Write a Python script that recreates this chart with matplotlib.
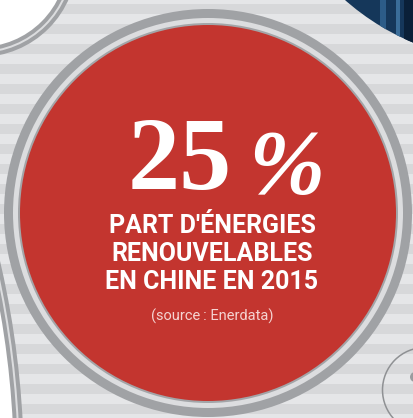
import numpy as np
import matplotlib
matplotlib.use("Agg")
import matplotlib.pyplot as plt
from matplotlib.patches import Circle

# content of the badge
share_value = 25
share_unit = "%"
label_lines = ["PART D'ÉNERGIES", "RENOUVELABLES", "EN CHINE EN 2015"]
source_text = "(source\u202f: Enerdata)"

W, H = 414, 418
RED = "#c3352f"
RING = "#a0a2a5"
RING_LIGHT = "#dcdddf"
STRIPE_A = "#e5e6e8"
STRIPE_B = "#d7d8da"

fig = plt.figure(figsize=(W / 100, H / 100), dpi=100)
ax = fig.add_axes([0, 0, 1, 1])
ax.set_xlim(0, W)
ax.set_ylim(H, 0)
ax.axis("off")

# striped background
ax.add_patch(plt.Rectangle((0, 0), W, H, color=STRIPE_A, zorder=0))
for y0 in range(-16, H, 20):
    ax.axhspan(y0, y0 + 10, color=STRIPE_B, lw=0, zorder=0)

# photo corner, top right
c = (508.5, -185.5)
r = 247.3
photo = Circle(c, r, color="#15375a", lw=0, zorder=1)
ax.add_patch(photo)
for x0, w, col in [(380, 6, "#2c5c88"), (396, 4, "#3a6d99"), (404, 10, "#0a2038")]:
    bar = plt.Rectangle((x0, -5), w, 60, color=col, lw=0, zorder=1.1)
    ax.add_patch(bar)
    bar.set_clip_path(photo)


def ringed_blank(center, r_white):
    # white area edged with a grey double band
    ax.add_patch(Circle(center, r_white + 10, color=RING, lw=0, zorder=2))
    ax.add_patch(Circle(center, r_white + 6, color=RING_LIGHT, lw=0, zorder=2))
    ax.add_patch(Circle(center, r_white + 4, color=RING, lw=0, zorder=2))
    ax.add_patch(Circle(center, r_white, color="white", lw=0, zorder=2))


ringed_blank((-20, -40), 87)
ringed_blank((-900, 470), 914)

# small circle, bottom right
ax.add_patch(Circle((425, 390), 42.5, fill=False, ec="#8f9194", lw=1.1, zorder=2))
ax.add_patch(Circle((415, 377), 5, color="#9a9c9f", lw=0, zorder=2))

# main badge
cx, cy = 208, 213
ax.add_patch(Circle((cx, cy), 204, color=RING, lw=0, zorder=3))
ax.add_patch(Circle((cx, cy), 195, color=RING_LIGHT, lw=0, zorder=3))
ax.add_patch(Circle((cx, cy), 190, color="#a3a5a8", lw=0, zorder=3))
ax.add_patch(Circle((cx, cy), 188, color=RED, lw=0, zorder=3))

ax.text(232, 189, str(share_value), color="white", fontsize=75,
        family="Liberation Serif", weight="bold", ha="right", va="baseline", zorder=5)
ax.text(248, 193, share_unit, color="white", fontsize=66,
        family="Liberation Serif", weight="bold", style="italic",
        ha="left", va="baseline", zorder=5)

for i, line in enumerate(label_lines):
    ax.text(212, 232.7 + 28.2 * i, line, color="white", fontsize=18,
            family="Roboto", weight="bold", ha="center", va="baseline", zorder=5)

ax.text(212.5, 316, source_text, color="#f5d3d1", fontsize=10.5,
        family=["Roboto", "DejaVu Sans"], weight="normal",
        ha="center", va="center", zorder=5)

fig.savefig("out.png", dpi=100)
